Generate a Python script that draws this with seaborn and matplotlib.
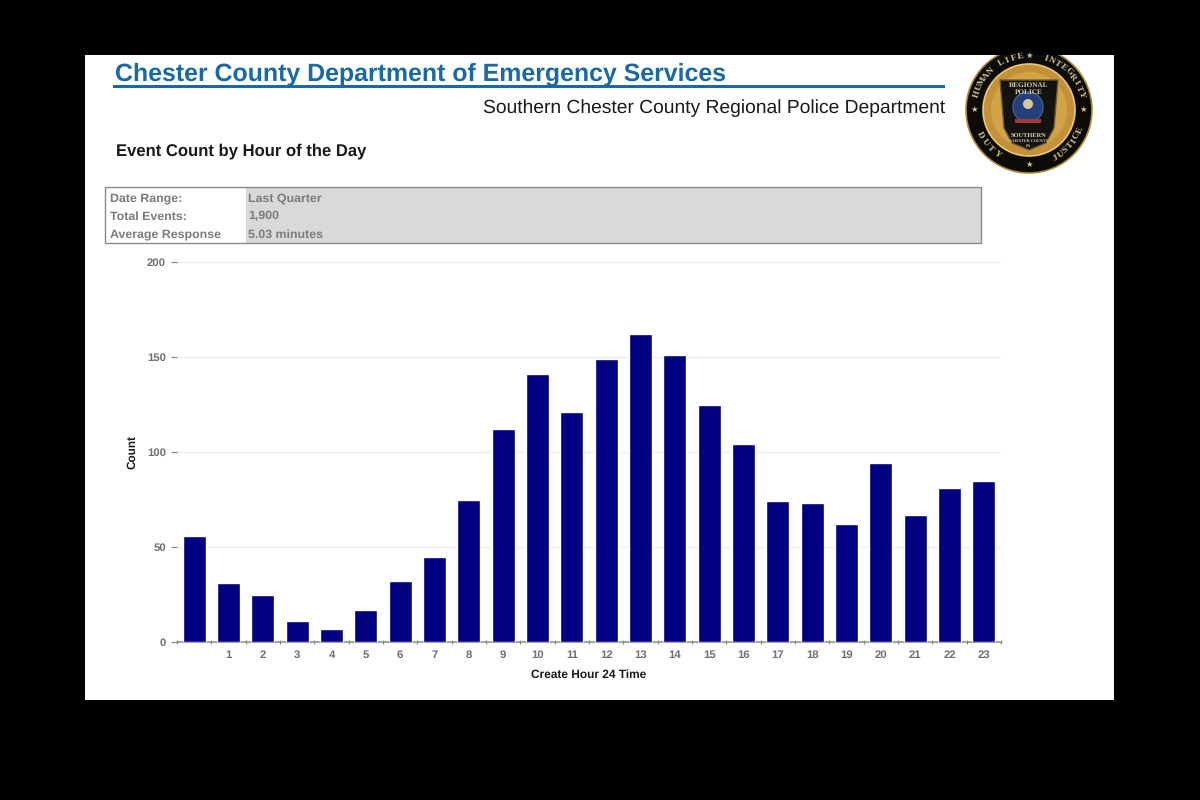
import numpy as np
import pandas as pd
import matplotlib
matplotlib.use("Agg")
import matplotlib.pyplot as plt
from matplotlib.patches import Circle, Rectangle, Polygon
import seaborn as sns

hours = list(range(24))
counts = [56, 31, 25, 11, 7, 17, 32, 45, 75, 112, 141, 121, 149, 162, 151, 125, 104, 74, 73, 62, 94, 67, 81, 85]
x_labels = [""] + [str(h) for h in hours[1:]]
y_ticks = [0, 50, 100, 150, 200]
info_keys = ["Date Range:", "Total Events:", "Average Response"]
info_vals = ["Last Quarter", "1,900", "5.03 minutes"]

sns.set_theme(style="white")
plt.rcParams["font.family"] = ["Liberation Sans", "DejaVu Sans"]
plt.rcParams["text.hinting"] = "no_hinting"
plt.rcParams["text.hinting_factor"] = 8

W, H = 1200, 800
fig = plt.figure(figsize=(12, 8), dpi=100, facecolor="black")

# Page layer in pixel coordinates
pg = fig.add_axes([0, 0, 1, 1], zorder=0)
pg.set_xlim(0, W); pg.set_ylim(H, 0); pg.axis("off")
pg.add_patch(Rectangle((85, 55), 1029, 645, fc="white", ec="none"))

blue = "#1b69a3"
pg.text(115, 81, "Chester County Department of Emergency Services", fontsize=17.93,
        fontweight="bold", color=blue, ha="left", va="baseline")
pg.add_patch(Rectangle((113, 84.5), 832, 3.5, fc=blue, ec="none"))
pg.text(945, 113, "Southern Chester County Regional Police Department", fontsize=13.9,
        color="#1a1a1a", ha="right", va="baseline")
pg.text(116, 155, "Event Count by Hour of the Day", fontsize=11.98, fontweight="bold",
        color="#1a1a1a", ha="left", va="baseline")

# Info box
pg.add_patch(Rectangle((246, 187), 735, 56, fc="#d9d9d9", ec="none"))
pg.add_patch(Rectangle((105, 187), 876, 56, fc="none", ec="#8a8a8a", lw=1.0))
for i, (k, v) in enumerate(zip(info_keys, info_vals)):
    y = 198.5 + i * 18
    pg.text(110, y, k, fontsize=8.9, fontweight="bold", color="#7b7b7b", va="center")
    pg.text(248, y, v, fontsize=8.9, fontweight="bold", color="#7b7b7b", va="center")

# Seal
clip = Rectangle((85, 55), 1029, 645, transform=pg.transData)
cx, cy = 1029, 110
serif = "Liberation Serif"
def disc(r, **kw):
    c = Circle((cx, cy), r, **kw)
    pg.add_patch(c)
    c.set_clip_path(clip)
disc(63, fc="#0d0b08", ec="#b08a3a", lw=1.2)
disc(46, fc="#c4913a", ec="#e9c878", lw=1.2)
disc(38, fc="#d3a348", ec="none")
pg.add_patch(Polygon([(1000, 80), (1058, 80), (1054, 128), (1046, 143), (1029, 150), (1012, 143), (1004, 128)],
                     closed=True, fc="#15130f", ec="#6b5a35", lw=1))
pg.add_patch(Circle((1028, 107), 15, fc="#24407a", ec="#44609a", lw=1))
pg.add_patch(Circle((1028, 104), 5, fc="#d8c9a0", ec="none"))
pg.add_patch(Rectangle((1015, 119), 26, 4, fc="#a83a3a", ec="none"))
for txt, yy, fs in [("REGIONAL", 85, 5.2), ("POLICE", 92, 5.2), ("SOUTHERN", 136, 4.6),
                    ("CHESTER COUNTY", 141, 3.0), ("PA", 146, 3.0)]:
    pg.text(1029, yy, txt, fontsize=fs, fontweight="bold", color="#d8cfae", ha="center", va="center", family=serif)

def ring_text(s, mid_deg, step, r=54.5, bottom=False):
    n = len(s)
    for i, ch in enumerate(s):
        off = (i - (n - 1) / 2) * step
        deg = mid_deg - off if bottom else mid_deg + off
        a = np.radians(deg)
        rot = -(deg - 90) if bottom else -deg - 90
        pg.text(cx + r * np.cos(a), cy + r * np.sin(a), ch, fontsize=6.6, fontweight="bold",
                color="#d6c493", ha="center", va="center", rotation=rot, rotation_mode="anchor", family=serif)
ring_text("HUMAN LIFE", 229, 7)
ring_text("INTEGRITY", 316, 7)
ring_text("DUTY", 139, 9, bottom=True)
ring_text("JUSTICE", 41, 6.5, bottom=True)
for a in (270, 180, 0, 90):
    pg.text(cx + 54.5 * np.cos(np.radians(a)), cy + 54.5 * np.sin(np.radians(a)), "★",
            fontsize=6, color="#d6c493", ha="center", va="center", family="DejaVu Sans")

# Chart
left, right, top, bottom = 177, 1001, 262, 642
ax = fig.add_axes([left / W, 1 - bottom / H, (right - left) / W, (bottom - top) / H], zorder=1)
ax.patch.set_alpha(0)
df = pd.DataFrame({"hour": [str(h) for h in hours], "count": counts})
sns.barplot(data=df, x="hour", y="count", order=df["hour"], color="#000080", saturation=1,
            width=0.67, ax=ax, zorder=3)
ax.set_xlim(-0.5, 23.5)
ax.set_ylim(0, 200)

gray = "#6f6f6f"
ax.set_yticks(y_ticks)
ax.set_yticklabels([str(t) for t in y_ticks], fontsize=8.2, fontweight="bold", color=gray)
ax.tick_params(axis="y", length=4.5, width=0.9, color="#8a8a8a", pad=3.5, left=True)
ax.yaxis.grid(True, color="#efefef", lw=1)
ax.set_axisbelow(True)

ax.set_xticks(hours)
ax.set_xticklabels(x_labels, fontsize=8.2, fontweight="bold", color=gray)
ax.tick_params(axis="x", which="major", length=0, pad=6, bottom=False)
ax.set_xticks(np.arange(-0.5, 24, 1), minor=True)
ax.tick_params(axis="x", which="minor", length=3.5, width=0.9, color="#8a8a8a", bottom=True, direction="inout")

for s in ("top", "right", "left"):
    ax.spines[s].set_visible(False)
ax.spines["bottom"].set_color("#8a8a8a")
ax.spines["bottom"].set_linewidth(1.1)

ax.set_xlabel("Create Hour 24 Time", fontsize=8.6, fontweight="bold", color="#1a1a1a", labelpad=6.5)
ax.set_ylabel("Count", fontsize=8.5, fontweight="bold", color="#1a1a1a", labelpad=6.8)

fig.savefig("out.png", dpi=100, facecolor=fig.get_facecolor())
